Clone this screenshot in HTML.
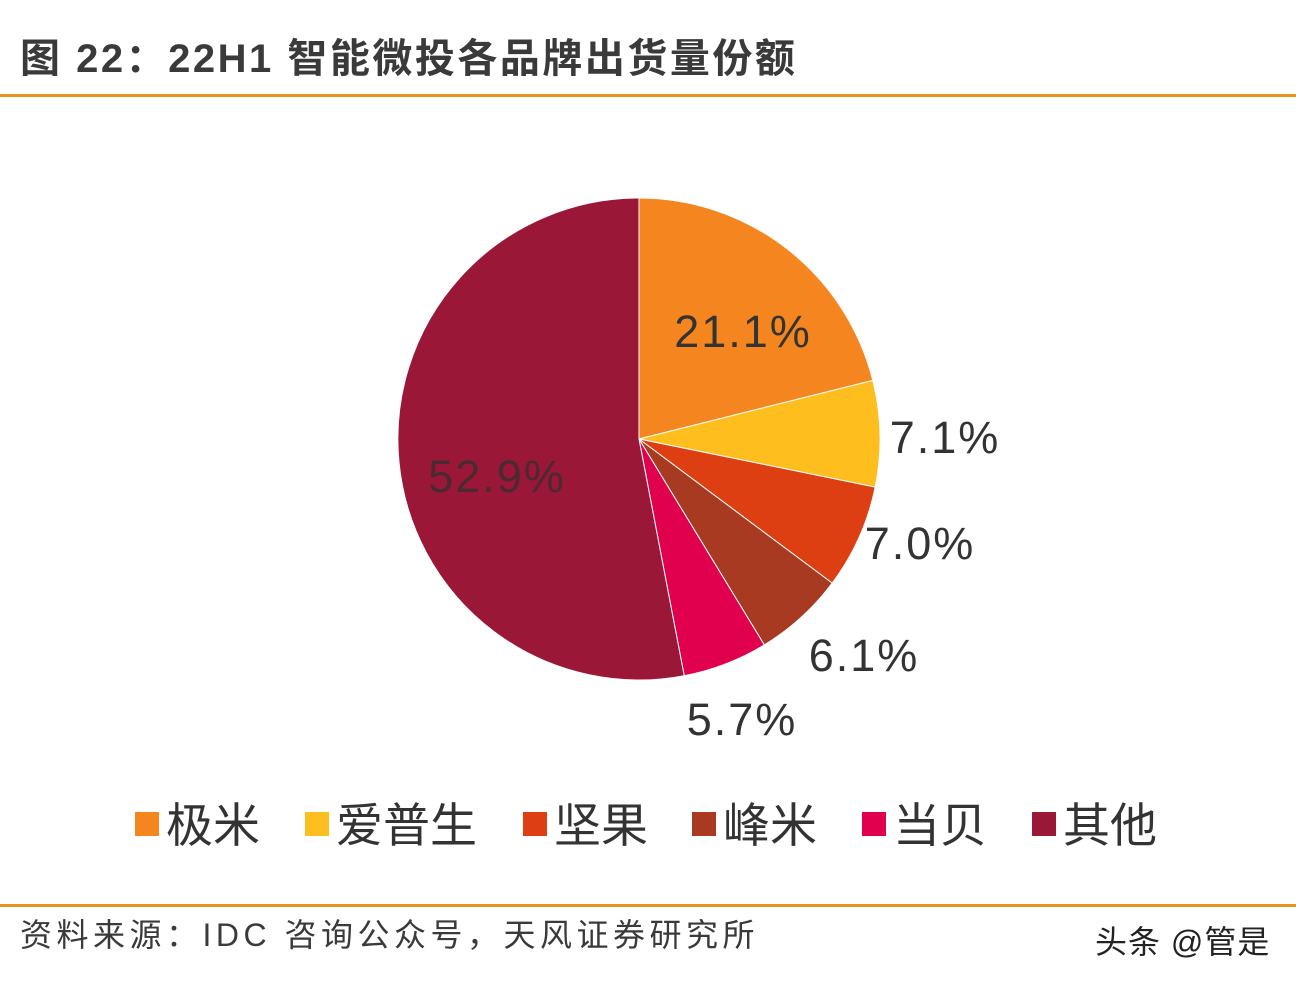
<!DOCTYPE html>
<html><head><meta charset="utf-8"><style>
html,body{margin:0;padding:0;background:#fff;}
body{width:1296px;height:986px;position:relative;overflow:hidden;font-family:"Liberation Sans","Noto Sans CJK SC",sans-serif;color:#333;}
.t{position:absolute;white-space:nowrap;}
.line{position:absolute;left:0;width:1296px;height:3px;background:#E8921F;}
.sq{position:absolute;width:24px;height:24px;}
.lg{position:absolute;top:796px;font-size:47px;line-height:60px;color:#333;}
</style></head><body>
<div class="t" style="left:20px;top:33px;font-size:40px;font-weight:bold;color:#3a3a3a;line-height:52px;letter-spacing:2.5px;">图 22：22H1 智能微投各品牌出货量份额</div>
<div class="line" style="top:94px;"></div>
<svg style="position:absolute;left:0;top:0" width="1296" height="986">
<g stroke="#fff" stroke-width="1">
<path d="M639,439 L639,198 A241,241 0 0 1 872.8,380.4 Z" fill="#F5861F"/>
<path d="M639,439 L872.8,380.4 A241,241 0 0 1 875.2,487.1 Z" fill="#FDBE1E"/>
<path d="M639,439 L875.2,487.1 A241,241 0 0 1 832.2,583.1 Z" fill="#DD3F12"/>
<path d="M639,439 L832.2,583.1 A241,241 0 0 1 764.3,644.9 Z" fill="#A83A22"/>
<path d="M639,439 L764.3,644.9 A241,241 0 0 1 684.2,675.7 Z" fill="#E0004D"/>
<path d="M639,439 L684.2,675.7 A241,241 0 1 1 639,198 Z" fill="#9B1737"/>
</g>
<g font-family="Liberation Sans, sans-serif" font-size="45" fill="#333" text-anchor="middle" letter-spacing="2">
<text x="743" y="347">21.1%</text>
<text x="945" y="453">7.1%</text>
<text x="920" y="559">7.0%</text>
<text x="864" y="671">6.1%</text>
<text x="742" y="735">5.7%</text>
<text x="497" y="492" fill="#4a2a30">52.9%</text>
</g>
</svg>
<div class="sq" style="left:135px;top:812px;background:#F5861F"></div><div class="lg" style="left:166px;">极米</div>
<div class="sq" style="left:305px;top:812px;background:#FDBE1E"></div><div class="lg" style="left:336px;">爱普生</div>
<div class="sq" style="left:523px;top:812px;background:#DD3F12"></div><div class="lg" style="left:554px;">坚果</div>
<div class="sq" style="left:692px;top:812px;background:#A83A22"></div><div class="lg" style="left:723px;">峰米</div>
<div class="sq" style="left:862px;top:812px;background:#E0004D"></div><div class="lg" style="left:893px;">当贝</div>
<div class="sq" style="left:1032px;top:812px;background:#9B1737"></div><div class="lg" style="left:1063px;">其他</div>
<div class="line" style="top:904px;"></div>
<div class="t" style="left:20px;top:913px;font-size:32px;line-height:44px;color:#3a3a3a;letter-spacing:4.5px;">资料来源：IDC 咨询公众号，天风证券研究所</div>
<div class="t" style="left:1095px;top:920px;font-size:32px;line-height:44px;color:#222;letter-spacing:1px;">头条 @管是</div>
</body></html>
